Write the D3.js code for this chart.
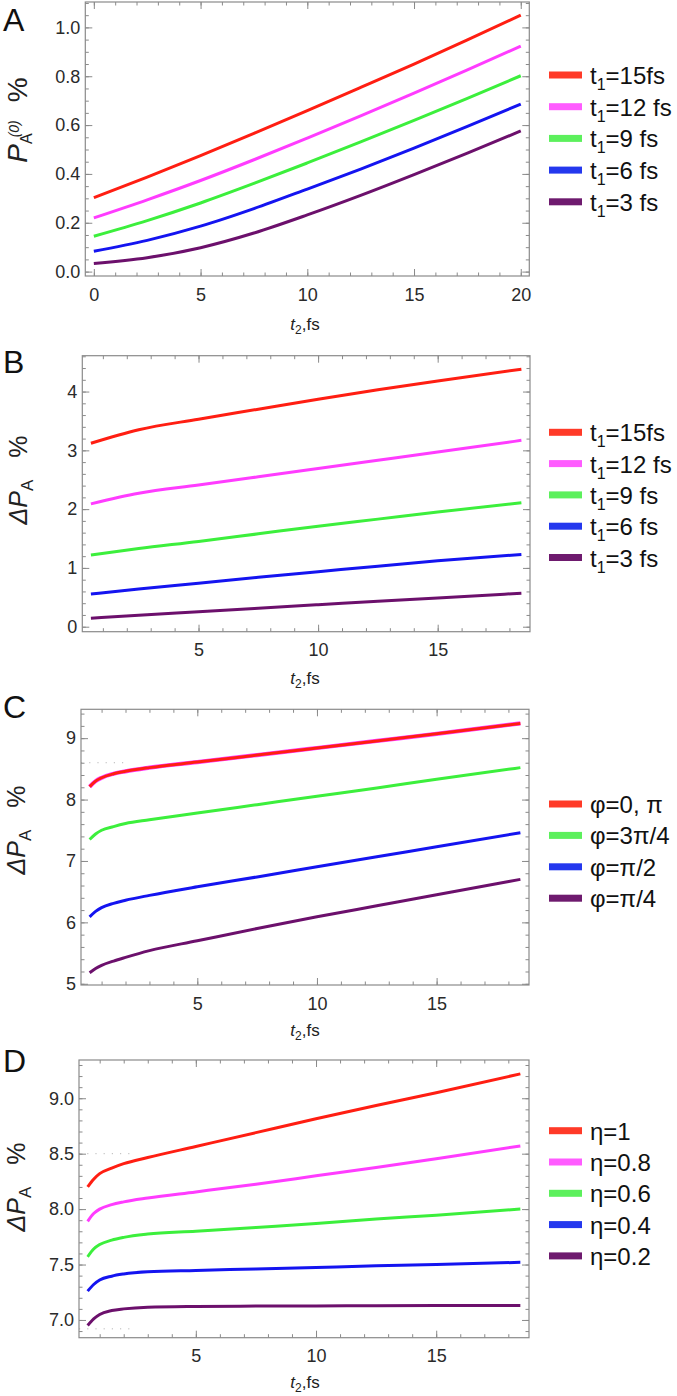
<!DOCTYPE html>
<html><head><meta charset="utf-8">
<script src="https://cdn.jsdelivr.net/npm/d3@7"></script>
<style>
body{margin:0;background:#fff;}
svg{display:block;}
text{font-family:"Liberation Sans",Arial,Helvetica,sans-serif;}
</style>
</head><body>
<script>
// ---------------- DATA ----------------
// Panel A: P_A^(0) % vs t2 (fs)
const tA = [0, 2.5, 5, 7.5, 10, 12.5, 15, 17.5, 20];
const aT15 = [0.303, 0.387, 0.475, 0.566, 0.659, 0.754, 0.85, 0.949, 1.05];
const aT12 = [0.22, 0.294, 0.373, 0.458, 0.547, 0.638, 0.731, 0.826, 0.923];
const aT9  = [0.145, 0.209, 0.281, 0.361, 0.445, 0.531, 0.619, 0.709, 0.802];
const aT6  = [0.083, 0.128, 0.186, 0.258, 0.338, 0.42, 0.506, 0.595, 0.686];
const aT3  = [0.033, 0.057, 0.098, 0.158, 0.232, 0.312, 0.397, 0.485, 0.576];
const xTicksA = [0, 5, 10, 15, 20];
const yTicksA = [0.0, 0.2, 0.4, 0.6, 0.8, 1.0];

// Panel B: ΔP_A % vs t2
const tB = [0.5, 2.5, 5, 7.5, 10, 12.5, 15, 18.5];
const bT15 = [3.12, 3.35, 3.53, 3.70, 3.87, 4.03, 4.18, 4.38];
const bT12 = [2.09, 2.27, 2.41, 2.55, 2.69, 2.83, 2.97, 3.17];
const bT9  = [1.22, 1.33, 1.45, 1.58, 1.71, 1.83, 1.95, 2.11];
const bT6  = [0.556, 0.64, 0.74, 0.84, 0.935, 1.03, 1.12, 1.23];
const bT3  = [0.143, 0.195, 0.255, 0.315, 0.375, 0.435, 0.49, 0.57];
const xTicksB = [5, 10, 15];
const yTicksB = [0, 1, 2, 3, 4];

// Panel C: ΔP_A % vs t2 for phases
const tC = [0.5, 0.75, 1, 1.5, 2, 3, 5, 7.5, 10, 12.5, 15, 18.5];
const cPhi0  = [8.21, 8.30, 8.355, 8.42, 8.46, 8.52, 8.61, 8.725, 8.84, 8.955, 9.07, 9.24];
const cPhi3q = [7.35, 7.44, 7.50, 7.56, 7.61, 7.67, 7.78, 7.917, 8.054, 8.19, 8.33, 8.52];
const cPhiH  = [6.09, 6.18, 6.24, 6.31, 6.36, 6.44, 6.58, 6.74, 6.906, 7.07, 7.23, 7.46];
const cPhiQ  = [5.18, 5.25, 5.30, 5.37, 5.43, 5.54, 5.70, 5.90, 6.09, 6.27, 6.45, 6.70];
const xTicksC = [5, 10, 15];
const yTicksC = [5, 6, 7, 8, 9];

// Panel D: ΔP_A % vs t2 for eta
const tD = [0.5, 0.75, 1, 1.5, 2, 3, 5, 7.5, 10, 12.5, 15, 18.5];
const dEta10 = [8.20, 8.27, 8.32, 8.37, 8.41, 8.465, 8.565, 8.69, 8.815, 8.935, 9.05, 9.22];
const dEta08 = [7.89, 7.96, 8.00, 8.04, 8.065, 8.10, 8.155, 8.225, 8.30, 8.375, 8.455, 8.57];
const dEta06 = [7.57, 7.64, 7.68, 7.72, 7.745, 7.775, 7.80, 7.835, 7.87, 7.91, 7.945, 8.00];
const dEta04 = [7.26, 7.32, 7.36, 7.395, 7.415, 7.435, 7.447, 7.46, 7.474, 7.488, 7.50, 7.52];
const dEta02 = [6.95, 7.01, 7.05, 7.085, 7.10, 7.115, 7.122, 7.125, 7.127, 7.128, 7.13, 7.13];
const xTicksD = [5, 10, 15];
const yTicksD = [7.0, 7.5, 8.0, 8.5, 9.0];

const legendT1 = ["=15fs", "=12 fs", "=9 fs", "=6 fs", "=3 fs"];
const legendPhi = ["φ=0, π", "φ=3π/4", "φ=π/2", "φ=π/4"];
const legendEta = ["η=1", "η=0.8", "η=0.6", "η=0.4", "η=0.2"];

// ---------------- STYLE ----------------
const COL = {red:"#ff1e12", magenta:"#ff3cff", green:"#3cef3c", blue:"#1414f0", purple:"#6c106c"};
const LEG = {red:"#ff3a28", magenta:"#ff5cff", green:"#5cf05c", blue:"#2438ee", purple:"#6e1a6e"};
const FRAME = "#8a8a8a";
const W = 677, H = 1396;

const svg = d3.select("body").append("svg").attr("width", W).attr("height", H);

function panel(cfg) {
  const g = svg.append("g");
  const f = cfg.frame;
  const x = d3.scaleLinear().domain(cfg.xDomain).range([f.l, f.r]);
  const y = d3.scaleLinear().domain(cfg.yDomain).range([f.b, f.t]);

  (cfg.dots || []).forEach(d => {
    g.append("line").attr("x1", f.l).attr("x2", x(d[1]))
      .attr("y1", y(d[0])).attr("y2", y(d[0]))
      .attr("stroke", "#b8b8b8").attr("stroke-width", 1).attr("stroke-dasharray", "1.2,7");
  });

  const inner = (axis, size) => axis.tickSizeInner(-size).tickSizeOuter(0);
  function ticks(vals, size, labels) {
    const bottom = g.append("g").attr("transform", `translate(0,${f.b})`)
      .call(inner(d3.axisBottom(x), size).tickValues(vals)
        .tickFormat(labels ? cfg.xFmt : () => "").tickPadding(12));
    const top = g.append("g").attr("transform", `translate(0,${f.t})`)
      .call(inner(d3.axisTop(x), size).tickValues(vals).tickFormat(() => ""));
    return [bottom, top];
  }
  function yticks(vals, size, labels) {
    const left = g.append("g").attr("transform", `translate(${f.l},0)`)
      .call(inner(d3.axisLeft(y), size).tickValues(vals)
        .tickFormat(labels ? cfg.yFmt : () => "").tickPadding(5));
    const right = g.append("g").attr("transform", `translate(${f.r},0)`)
      .call(inner(d3.axisRight(y), size).tickValues(vals).tickFormat(() => ""));
    return [left, right];
  }
  const axes = [];
  axes.push(...ticks(cfg.xMinor, 3.5, false));
  axes.push(...ticks(cfg.xMajor, 7, true));
  axes.push(...yticks(cfg.yMinor, 3.5, false));
  axes.push(...yticks(cfg.yMajor, 7, true));
  axes.forEach(a => {
    a.select(".domain").remove();
    a.selectAll("line").attr("stroke", FRAME).attr("stroke-width", 1);
    a.selectAll("text").attr("fill", "#2a2a2a").attr("font-size", 18)
      .attr("font-family", "'Liberation Sans',Arial,sans-serif");
  });

  g.append("rect").attr("x", f.l).attr("y", f.t).attr("width", f.r - f.l).attr("height", f.b - f.t)
    .attr("fill", "none").attr("stroke", FRAME).attr("stroke-width", 1.2);

  const line = d3.line().curve(d3.curveMonotoneX);
  cfg.series.forEach(s => {
    g.append("path")
      .attr("d", line(s.v.map((v, i) => [x(cfg.t[i]), y(v)])))
      .attr("fill", "none").attr("stroke", s.color).attr("stroke-width", s.w || 3)
      .attr("stroke-linejoin", "round").attr("stroke-linecap", "butt");
  });

  g.append("text").attr("x", 3).attr("y", cfg.letterY).attr("font-size", 32)
    .attr("fill", "#111").text(cfg.letter);

  const yl = g.append("text")
    .attr("transform", `translate(${cfg.ylab.x},${cfg.ylab.y}) rotate(-90)`)
    .attr("text-anchor", "middle").attr("font-size", cfg.ylab.size || 25).attr("fill", "#222");
  cfg.ylab.build(yl);

  const xl = g.append("text").attr("x", 305).attr("y", cfg.xlabY)
    .attr("text-anchor", "middle").attr("font-size", 17).attr("fill", "#222");
  xl.append("tspan").attr("font-style", "italic").text("t");
  xl.append("tspan").attr("font-size", 12).attr("dy", 4).text("2");
  xl.append("tspan").attr("dy", -4).text(",fs");

  const lg = g.append("g");
  cfg.legend.items.forEach((it, i) => {
    const yy = cfg.legend.y0 + i * cfg.legend.dy;
    lg.append("rect").attr("x", 549).attr("y", yy - 3.5).attr("width", 33).attr("height", 7)
      .attr("fill", it.color);
    const tx = lg.append("text").attr("x", 590).attr("y", yy + 9)
      .attr("font-size", 24).attr("fill", "#111");
    if (it.sub) {
      tx.append("tspan").text("t");
      tx.append("tspan").attr("font-size", 16).attr("dy", 6).text("1");
      tx.append("tspan").attr("dy", -6).text(it.label);
    } else {
      tx.text(it.label);
    }
  });
}

function deltaLabel(t) {
  t.append("tspan").attr("font-style", "italic").text("ΔP");
  t.append("tspan").attr("font-size", 17).attr("dy", 6).text("A");
  t.append("tspan").attr("dy", -6).attr("dx", 22).text("%");
}

const fmt1 = d3.format(".1f");
const fmt0 = d3.format("d");
const colorsT1 = [COL.red, COL.magenta, COL.green, COL.blue, COL.purple];
const legColsT1 = [LEG.red, LEG.magenta, LEG.green, LEG.blue, LEG.purple];

// Panel A
panel({
  frame: {l: 85.3, r: 529.3, t: 2, b: 276},
  xDomain: [-0.4, 20.4], yDomain: [-0.018, 1.104],
  t: tA,
  xMajor: xTicksA, xMinor: d3.range(0, 21, 1),
  yMajor: yTicksA, yMinor: d3.range(0, 1.101, 0.05),
  xFmt: fmt0, yFmt: fmt1,
  series: [aT3, aT6, aT9, aT12, aT15].map((v, i) => ({v, color: colorsT1[4 - i]})),
  letter: "A", letterY: 31,
  ylab: {x: 27, y: 120, size: 28, build: t => {
    t.append("tspan").attr("font-style", "italic").text("P");
    t.append("tspan").attr("font-size", 16).attr("dy", 5).text("A");
    t.append("tspan").attr("font-size", 14).attr("font-style", "italic").attr("dx", -4).attr("dy", -13).text("(0)");
    t.append("tspan").attr("dy", 8).attr("dx", 18).text("%");
  }},
  xlabY: 330,
  legend: {y0: 75, dy: 31.7, items: legendT1.map((l, i) => ({label: l, sub: true, color: legColsT1[i]}))}
});

// Panel B
panel({
  frame: {l: 82.3, r: 530, t: 355.7, b: 631.7},
  xDomain: [0.14, 18.86], yDomain: [-0.085, 4.61],
  t: tB,
  xMajor: xTicksB, xMinor: d3.range(1, 19, 1),
  yMajor: yTicksB, yMinor: d3.range(0, 4.61, 0.2),
  xFmt: fmt0, yFmt: fmt0,
  series: [bT3, bT6, bT9, bT12, bT15].map((v, i) => ({v, color: colorsT1[4 - i]})),
  letter: "B", letterY: 373,
  ylab: {x: 27, y: 480, build: deltaLabel},
  xlabY: 684,
  legend: {y0: 432.3, dy: 31.3, items: legendT1.map((l, i) => ({label: l, sub: true, color: legColsT1[i]}))}
});

// Panel C
panel({
  frame: {l: 81, r: 529, t: 709.3, b: 985},
  xDomain: [0.14, 18.86], yDomain: [4.98, 9.47],
  t: tC,
  xMajor: xTicksC, xMinor: d3.range(1, 19, 1),
  yMajor: yTicksC, yMinor: d3.range(5, 9.47, 0.2),
  xFmt: fmt0, yFmt: fmt0,
  dots: [[8.6, 2.1]],
  series: [
    {v: cPhiQ, color: COL.purple},
    {v: cPhiH, color: COL.blue},
    {v: cPhi3q, color: COL.green},
    {v: cPhi0, color: COL.magenta, w: 4.2},
    {v: cPhi0, color: COL.red, w: 3}
  ],
  letter: "C", letterY: 718,
  ylab: {x: 25, y: 830, build: deltaLabel},
  xlabY: 1036,
  legend: {y0: 804, dy: 31.4, items: legendPhi.map((l, i) => ({label: l, color: [LEG.red, LEG.green, LEG.blue, LEG.purple][i]}))}
});

// Panel D
panel({
  frame: {l: 79, r: 529, t: 1060, b: 1337.7},
  xDomain: [0.14, 18.86], yDomain: [6.84, 9.345],
  t: tD,
  xMajor: xTicksD, xMinor: d3.range(1, 19, 1),
  yMajor: yTicksD, yMinor: d3.range(6.9, 9.34, 0.1),
  xFmt: fmt0, yFmt: fmt1,
  dots: [[8.5, 2.3], [6.92, 2.3]],
  series: [dEta02, dEta04, dEta06, dEta08, dEta10].map((v, i) => ({v, color: colorsT1[4 - i]})),
  letter: "D", letterY: 1072,
  ylab: {x: 25, y: 1187, build: deltaLabel},
  xlabY: 1388,
  legend: {y0: 1130.7, dy: 31.3, items: legendEta.map((l, i) => ({label: l, color: legColsT1[i]}))}
});
</script>
</body></html>
